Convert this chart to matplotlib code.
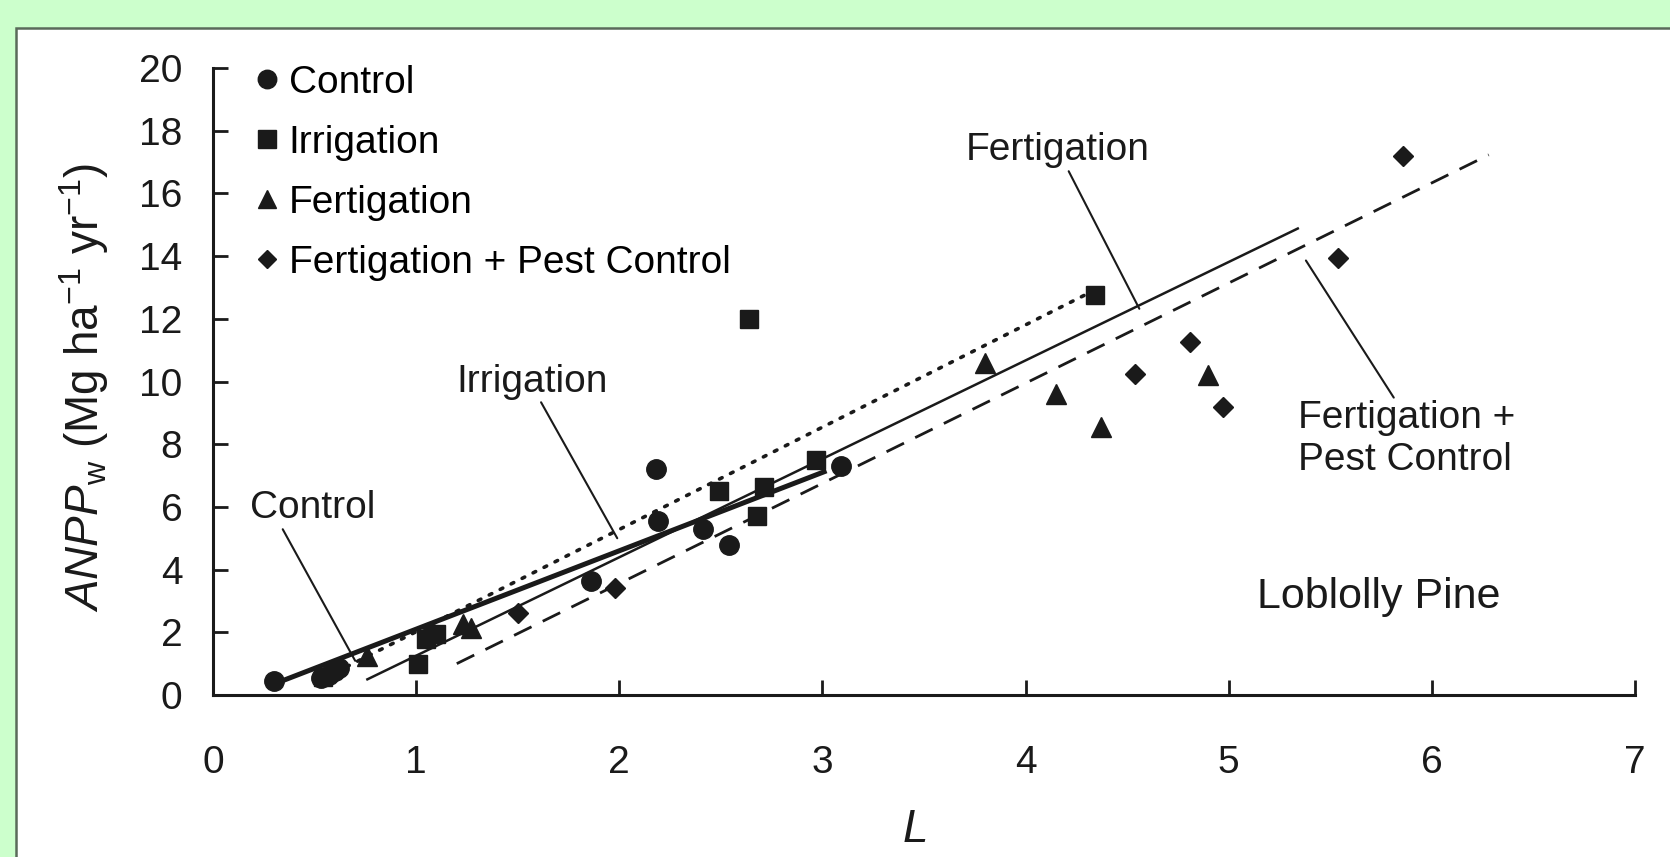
import matplotlib
matplotlib.use("Agg")
import matplotlib.pyplot as plt
from matplotlib.patches import Rectangle

# ---------------- data ----------------
control_x = [0.30, 0.53, 0.57, 0.60, 0.62, 1.08, 1.86, 2.18, 2.19, 2.41, 2.54, 3.09]
control_y = [0.45, 0.55, 0.65, 0.75, 0.85, 1.95, 3.65, 7.20, 5.55, 5.30, 4.80, 7.30]

irrig_x = [0.54, 1.01, 1.05, 1.10, 2.49, 2.64, 2.68, 2.71, 2.97, 4.34]
irrig_y = [0.58, 1.00, 1.80, 1.95, 6.50, 12.00, 5.70, 6.65, 7.50, 12.75]

fert_x = [0.76, 1.23, 1.27, 3.80, 4.15, 4.37, 4.90]
fert_y = [1.25, 2.25, 2.15, 10.60, 9.60, 8.55, 10.20]

fpc_x = [1.50, 1.98, 4.54, 4.81, 4.97, 5.54, 5.86]
fpc_y = [2.60, 3.40, 10.25, 11.25, 9.20, 13.95, 17.20]

# regression lines (end points)
control_fit_x = [0.30, 3.02]
control_fit_y = [0.35, 7.15]
irrig_fit_x = [0.55, 4.32]
irrig_fit_y = [0.55, 12.85]
fert_fit_x = [0.76, 5.34]
fert_fit_y = [0.50, 14.88]
fpc_fit_x = [1.20, 6.28]
fpc_fit_y = [1.00, 17.23]

series_labels = ["Control", "Irrigation", "Fertigation", "Fertigation + Pest Control"]
xticks = [0, 1, 2, 3, 4, 5, 6, 7]
yticks = [0, 2, 4, 6, 8, 10, 12, 14, 16, 18, 20]

# ---------------- style ----------------
FONT = "Liberation Sans"
plt.rcParams["font.family"] = [FONT, "DejaVu Sans"]
plt.rcParams["mathtext.fontset"] = "custom"
plt.rcParams["mathtext.rm"] = FONT
plt.rcParams["mathtext.it"] = FONT + ":italic"
plt.rcParams["mathtext.bf"] = FONT + ":bold"
FS = 28
K = "#1a1a1a"

fig = plt.figure(figsize=(16.70, 8.57), dpi=100)
fig.patch.set_facecolor("#ccffcc")
fig.patches.append(Rectangle((16 / 1670, -0.01), 1.1, (857 - 28) / 857 + 0.01,
                             transform=fig.transFigure, facecolor="white",
                             edgecolor="#5a6a5a", linewidth=1.8, zorder=-5))

ax = fig.add_axes([213 / 1670, (857 - 695) / 857, (1635 - 213) / 1670, (695 - 68) / 857])
ax.set_facecolor("none")
ax.set_xlim(0, 7)
ax.set_ylim(0, 20)
for s in ["top", "right"]:
    ax.spines[s].set_visible(False)
for s in ["left", "bottom"]:
    ax.spines[s].set_linewidth(2.2)
    ax.spines[s].set_color(K)
ax.set_xticks(xticks)
ax.set_yticks(yticks)
ax.tick_params(direction="in", length=11, width=2, colors=K, labelsize=FS)
ax.tick_params(axis="x", pad=36)
ax.tick_params(axis="y", pad=22)

# fits
ax.plot(control_fit_x, control_fit_y, color=K, lw=3.6, solid_capstyle="butt", zorder=3)
ax.plot(irrig_fit_x, irrig_fit_y, color=K, lw=2.6, linestyle=(0, (0.8, 2.6)),
        dash_capstyle="round", zorder=3)
ax.plot(fert_fit_x, fert_fit_y, color=K, lw=1.8, zorder=3)
ax.plot(fpc_fit_x, fpc_fit_y, color=K, lw=2.0, linestyle=(0, (7, 4.5)), zorder=3)

# points
ax.plot(control_x, control_y, "o", color=K, ms=14, ls="none", zorder=4, label=series_labels[0])
ax.plot(irrig_x, irrig_y, "s", color=K, ms=13, ls="none", zorder=4, label=series_labels[1])
ax.plot(fert_x, fert_y, "^", color=K, ms=14, ls="none", zorder=4, label=series_labels[2])
ax.plot(fpc_x, fpc_y, "D", color=K, ms=10, ls="none", zorder=4, label=series_labels[3])

leg = ax.legend(loc="upper left", bbox_to_anchor=(0.019, 1.03), frameon=False,
                fontsize=FS, handlelength=0.6, handletextpad=0.25, labelspacing=0.62,
                markerscale=0.95, borderaxespad=0)

# annotations
arrow = dict(arrowstyle="-", color=K, lw=1.5, shrinkA=0, shrinkB=0)
ax.annotate("Control", xy=(0.70, 1.09), xytext=(0.49, 5.95), fontsize=FS, color=K,
            ha="center", va="center", arrowprops=dict(arrow, relpos=(0.25, 0.0)))
ax.annotate("Irrigation", xy=(1.99, 5.0), xytext=(1.57, 10.0), fontsize=FS, color=K,
            ha="center", va="center", arrowprops=dict(arrow, relpos=(0.55, 0.0)))
ax.annotate("Fertigation", xy=(4.56, 12.32), xytext=(4.16, 17.37), fontsize=FS, color=K,
            ha="center", va="center", arrowprops=dict(arrow, relpos=(0.55, 0.0)))
ax.annotate("Fertigation +\nPest Control", xy=(5.38, 13.86), xytext=(5.34, 8.16),
            fontsize=FS, color=K, ha="left", va="center", linespacing=1.2,
            arrowprops=dict(arrow, relpos=(0.45, 1.0)))
ax.text(5.74, 3.13, "Loblolly Pine", fontsize=31, color=K, ha="center", va="center")

ax.set_ylabel(r"$\it{ANPP}_{\rm w}$ (Mg ha$^{-1}$ yr$^{-1}$)", fontsize=33, color=K)
ax.yaxis.set_label_coords(-0.072, 0.49)
ax.set_xlabel(r"$\it{L}$", fontsize=33, color=K)
ax.xaxis.set_label_coords(0.493, -0.18)

fig.savefig("out.png", dpi=100)
